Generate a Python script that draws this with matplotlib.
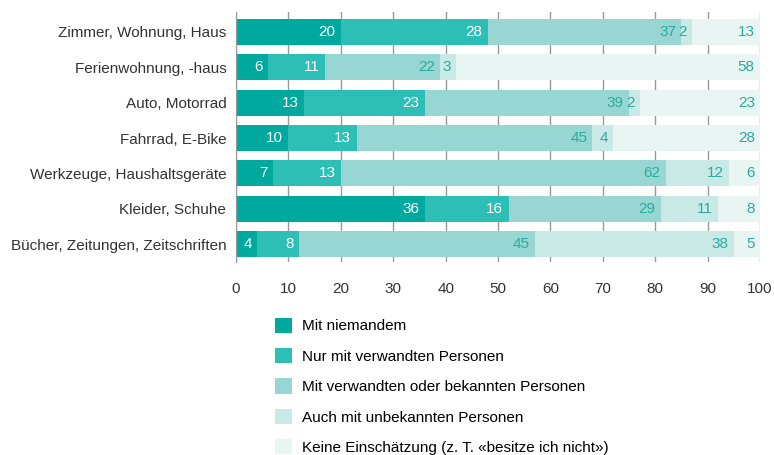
import numpy as np
import matplotlib.pyplot as plt
from matplotlib.patches import Patch

plt.rcParams['font.family'] = ['Liberation Sans', 'DejaVu Sans']

# ----------------------------
# Data
# ----------------------------
categories = ["Zimmer, Wohnung, Haus", "Ferienwohnung, -haus", "Auto, Motorrad",
              "Fahrrad, E-Bike", "Werkzeuge, Haushaltsgeräte", "Kleider, Schuhe",
              "Bücher, Zeitungen, Zeitschriften"]
series_names = ["Mit niemandem", "Nur mit verwandten Personen",
                "Mit verwandten oder bekannten Personen", "Auch mit unbekannten Personen",
                "Keine Einschätzung (z. T. «besitze ich nicht»)"]
niemand = [20, 6, 13, 10, 7, 36, 4]
verwandt = [28, 11, 23, 13, 13, 16, 8]
bekannt = [37, 22, 39, 45, 62, 29, 45]
unbekannt = [2, 3, 2, 4, 12, 11, 38]
keine = [13, 58, 23, 28, 6, 8, 5]
xticks = [0, 10, 20, 30, 40, 50, 60, 70, 80, 90, 100]

colors = ["#00a99d", "#2dbfb6", "#97d6d2", "#c9e9e6", "#e9f5f3"]
text_colors = ["white", "white", "#2aaba0", "#2aaba0", "#2aaba0"]

# ----------------------------
# Plot
# ----------------------------
fig = plt.figure(figsize=(7.74, 4.55), dpi=100)
ax = fig.add_axes([0.305, 0.424, 0.677, 0.55])

y = np.arange(len(categories))
left = np.zeros(len(categories))
for vals, col, tcol, name in zip([niemand, verwandt, bekannt, unbekannt, keine],
                                 colors, text_colors, series_names):
    vals = np.array(vals)
    ax.barh(y, vals, left=left, height=0.74, color=col, label=name, zorder=2)
    for yi, (l, v) in enumerate(zip(left, vals)):
        ax.text(l + v - 1.0, yi, str(v), ha='right', va='center',
                color=tcol, fontsize=11, zorder=3)
    left += vals

ax.set_xlim(0, 100)
ax.set_ylim(len(categories) - 0.49, -0.57)
ax.set_yticks(y)
ax.set_yticklabels(categories, fontsize=11, color='#333333')
ax.set_xticks(xticks)
ax.set_xticklabels([str(t) for t in xticks], fontsize=11, color='#333333')
ax.tick_params(axis='y', length=0, pad=7)
ax.tick_params(axis='x', length=0, pad=14)
ax.grid(axis='x', color='#999999', linewidth=1, zorder=0)
for s in ['top', 'right', 'bottom']:
    ax.spines[s].set_visible(False)
ax.spines['left'].set_color('#999999')

handles = [Patch(facecolor=c, edgecolor='none') for c in colors]
fig.legend(handles, series_names, loc='upper left', bbox_to_anchor=(0.355, 0.302),
           frameon=False, fontsize=11, handlelength=1.15, handleheight=1.15,
           labelspacing=0.96, handletextpad=0.6, borderpad=0, borderaxespad=0)

plt.savefig("out.png", dpi=100)
